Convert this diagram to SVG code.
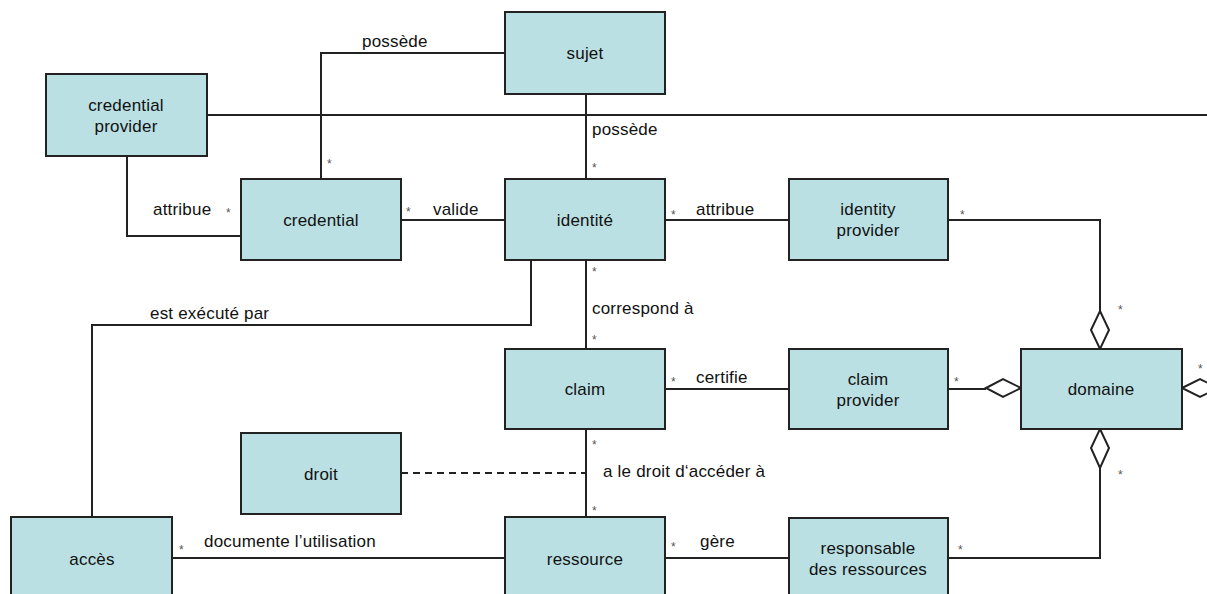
<svg xmlns="http://www.w3.org/2000/svg" width="1207" height="594" viewBox="0 0 1207 594">
<style>
.n rect{fill:#bae0e3;stroke:#222;stroke-width:2}
.n text{font-family:"Liberation Sans",Arial,sans-serif;font-size:17px;letter-spacing:0.2px;fill:#111;text-anchor:middle}
.c line,.c polyline{stroke:#222;stroke-width:2;fill:none}
.c polygon{stroke:#222;stroke-width:2;fill:#fff}
.c .d{stroke-dasharray:7,5}
.l{font-family:"Liberation Sans",Arial,sans-serif;font-size:17px;letter-spacing:0.2px;fill:#111}
.m{font-family:"Liberation Sans",Arial,sans-serif;font-size:12px;fill:#555}
</style>
<rect width="1207" height="594" fill="#fff"/>
<g class="c" id="connectors">
<line x1="207" y1="115" x2="1207" y2="115"/>
<polyline points="321,179 321,53 505,53"/>
<line x1="586" y1="94" x2="586" y2="179"/>
<line x1="401" y1="220" x2="505" y2="220"/>
<line x1="665" y1="220" x2="789" y2="220"/>
<polyline points="127,156 127,236 241,236"/>
<polyline points="948,220 1100,220 1100,311"/>
<polygon points="1100,311 1109,330 1100,349 1091,330"/>
<line x1="586" y1="260" x2="586" y2="349"/>
<polyline points="531,260 531,325 92,325 92,517"/>
<line x1="665" y1="389" x2="789" y2="389"/>
<line x1="948" y1="389" x2="986" y2="389"/>
<polygon points="986,388 1003,379 1021,388 1003,397"/>
<polygon points="1182,388 1200,379 1218,388 1200,397"/>
<polygon points="1100,429 1109,448 1100,468 1091,448"/>
<polyline points="1100,468 1100,558 948,558"/>
<line x1="586" y1="429" x2="586" y2="517"/>
<line class="d" x1="401" y1="473" x2="586" y2="473"/>
<line x1="172" y1="558" x2="505" y2="558"/>
<line x1="665" y1="558" x2="789" y2="558"/>
</g>
<g class="n" id="sujet"><rect x="505" y="12" width="160" height="82"/><text x="585" y="59">sujet</text></g>
<g class="n" id="credential-provider"><rect x="46" y="74" width="161" height="82"/><text x="126" y="111">credential</text><text x="126" y="132">provider</text></g>
<g class="n" id="credential"><rect x="241" y="179" width="160" height="81"/><text x="321" y="226">credential</text></g>
<g class="n" id="identite"><rect x="505" y="179" width="160" height="81"/><text x="585" y="226">identité</text></g>
<g class="n" id="identity-provider"><rect x="789" y="179" width="159" height="81"/><text x="868" y="215">identity</text><text x="868" y="236">provider</text></g>
<g class="n" id="claim"><rect x="505" y="349" width="160" height="80"/><text x="585" y="395">claim</text></g>
<g class="n" id="claim-provider"><rect x="789" y="349" width="159" height="80"/><text x="868" y="385">claim</text><text x="868" y="406">provider</text></g>
<g class="n" id="domaine"><rect x="1021" y="349" width="161" height="80"/><text x="1101" y="395">domaine</text></g>
<g class="n" id="droit"><rect x="241" y="433" width="160" height="81"/><text x="321" y="480">droit</text></g>
<g class="n" id="acces"><rect x="11" y="517" width="161" height="85"/><text x="92" y="565">accès</text></g>
<g class="n" id="ressource"><rect x="505" y="517" width="160" height="85"/><text x="585" y="565">ressource</text></g>
<g class="n" id="responsable"><rect x="789" y="518" width="159" height="84"/><text x="868" y="554">responsable</text><text x="868" y="575">des ressources</text></g>
<g id="labels">
<text class="l" x="362" y="47">possède</text>
<text class="l" x="592" y="135">possède</text>
<text class="l" x="433" y="215">valide</text>
<text class="l" x="696" y="215">attribue</text>
<text class="l" x="153" y="215">attribue</text>
<text class="l" x="592" y="314">correspond à</text>
<text class="l" x="150" y="319">est exécuté par</text>
<text class="l" x="696" y="383">certifie</text>
<text class="l" x="603" y="477">a le droit d‘accéder à</text>
<text class="l" x="204" y="547">documente l’utilisation</text>
<text class="l" x="700" y="547">gère</text>
<text class="m" x="327" y="168">*</text>
<text class="m" x="592" y="172">*</text>
<text class="m" x="406" y="216">*</text>
<text class="m" x="226" y="217">*</text>
<text class="m" x="671" y="219">*</text>
<text class="m" x="960" y="219">*</text>
<text class="m" x="592" y="276">*</text>
<text class="m" x="1118" y="314">*</text>
<text class="m" x="592" y="344">*</text>
<text class="m" x="671" y="386">*</text>
<text class="m" x="954" y="386">*</text>
<text class="m" x="1198" y="373">*</text>
<text class="m" x="592" y="449">*</text>
<text class="m" x="1118" y="479">*</text>
<text class="m" x="592" y="515">*</text>
<text class="m" x="179" y="554">*</text>
<text class="m" x="671" y="551">*</text>
<text class="m" x="958" y="554">*</text>
</g>
</svg>
